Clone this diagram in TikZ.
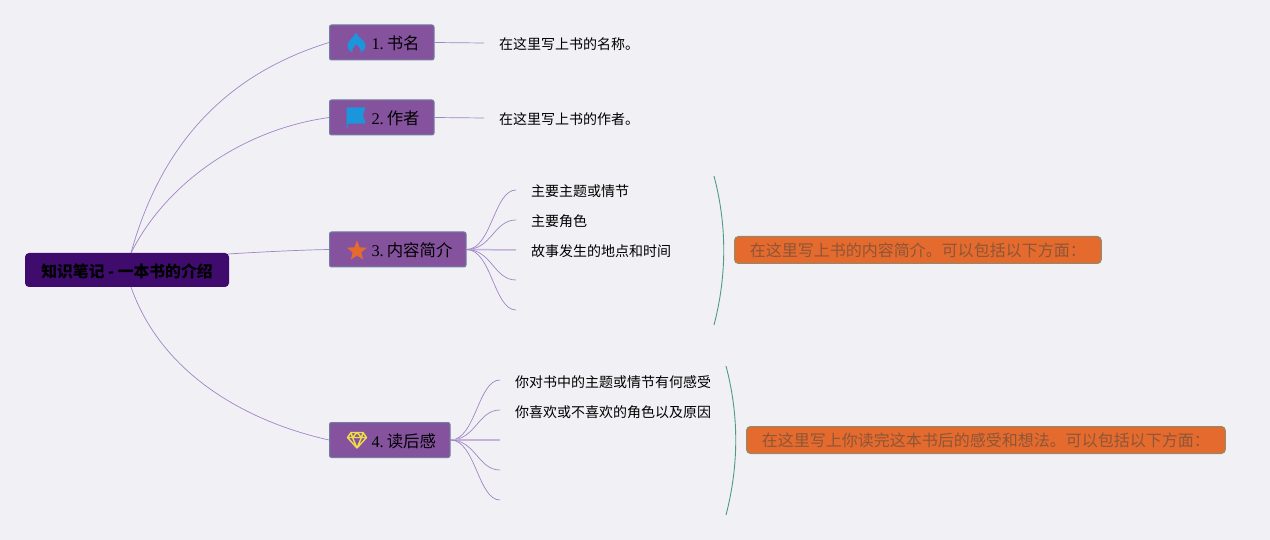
\documentclass[tikz,border=0pt]{standalone}
\usepackage{fontspec}
\setmainfont{Liberation Serif}
\newfontfamily\cjk{Noto Sans CJK SC}
\usetikzlibrary{shapes.geometric}
\definecolor{pagebg}{HTML}{F1F1F5}
\definecolor{rootfill}{HTML}{3F0B6D}
\definecolor{subjfill}{HTML}{85539E}
\definecolor{subjline}{HTML}{6F7FA0}
\definecolor{branch}{HTML}{A084C6}
\definecolor{branchlight}{HTML}{C4B2DC}
\definecolor{bracketline}{HTML}{4F9A85}
\definecolor{notefill}{HTML}{E56A2D}
\definecolor{noteline}{HTML}{918A6C}
\definecolor{notetext}{HTML}{8C5638}
\definecolor{iconblue}{HTML}{1A96DC}
\definecolor{iconyellow}{HTML}{F0DC46}
\tikzset{
    root/.style={fill=rootfill, rounded corners=4pt, minimum width=204pt, minimum height=34pt, inner sep=0pt, text height=16pt, text depth=0pt, font=\cjk\bfseries\fontsize{15.8}{18}\selectfont},
    subject/.style={draw=subjline, fill=subjfill, line width=1pt, rounded corners=2pt, anchor=west, text width=#1, minimum height=35pt, inner xsep=0pt, align=left, text height=15pt, text depth=1pt, font=\cjk\fontsize{16.4}{19}\selectfont, execute at begin node=\hspace*{42pt}},
    leaf/.style={anchor=west, inner xsep=15pt, inner ysep=0pt, text height=14pt, text depth=0pt, font=\cjk\fontsize{14}{18}\selectfont},
    note/.style={draw=noteline, fill=notefill, text=notetext, line width=1pt, rounded corners=4pt, anchor=west, minimum height=27pt, inner xsep=15.4pt, inner ysep=0pt, text height=14.5pt, text depth=1.5pt, font=\cjk\fontsize{16}{19}\selectfont},
    link/.style={draw=branch, line width=0.7pt},
    midlink/.style={draw=branchlight, line width=1.5pt},
    bracket/.style={draw=bracketline, line width=0.9pt}
}
\begin{document}
\begin{tikzpicture}[x=1pt, y=-1pt]
    \fill[pagebg] (0,0) rectangle (1270,540);

    % root and subjects
    \node[root] (root) at (127,270) {知识笔记 - 一本书的介绍};
    \node[subject=104.5pt] (s1) at (329,42.5) {{\rmfamily 1.}\hspace{3pt}书名};
    \node[subject=104.5pt] (s2) at (329,117.5) {{\rmfamily 2.}\hspace{3pt}作者};
    \node[subject=136.5pt] (s3) at (329,249.5) {{\rmfamily 3.}\hspace{3pt}内容简介};
    \node[subject=120.5pt] (s4) at (329,440) {{\rmfamily 4.}\hspace{3pt}读后感};

    % icons
    \fill[iconblue] (356,32.7) .. controls (358,38) and (365.5,40) .. (365.5,46) .. controls (365.5,49) and (363,51.5) .. (360.5,52.5) .. controls (361.5,49) and (359,47) .. (356.3,44) .. controls (354,47) and (351.5,49) .. (352.5,52.5) .. controls (349.5,51.5) and (347.5,49) .. (347.5,46) .. controls (347.5,40) and (354,38) .. (356,32.7) -- cycle;
    \fill[iconblue] (346.7,107.3) -- (365.7,107.3) -- (362.7,115) -- (365.7,123.3) -- (347.7,123.8) -- (347.7,128) -- (346.7,128) -- cycle;
    \node[star, star points=5, star point ratio=2.3, fill=notefill, inner sep=0pt, minimum size=21pt] (staricon) at (357,251) {};
    \draw[iconyellow, line width=1.4pt, line join=round] (351,432.5) -- (363,432.5) -- (366.5,437.5) -- (357,448) -- (347.5,437.5) -- cycle (347.5,437.5) -- (366.5,437.5) (352.5,437.5) -- (357,448) -- (361.5,437.5) (351,432.5) -- (352.5,437.5) -- (357,432.5) -- (361.5,437.5) -- (363,432.5);

    % texts
    \node[leaf] (t1) at (484,43) {在这里写上书的名称。};
    \node[leaf] (t2) at (484,118) {在这里写上书的作者。};
    \node[leaf] (c1) at (516,190) {主要主题或情节};
    \node[leaf] (c2) at (516,220) {主要角色};
    \node[leaf] (c3) at (516,250) {故事发生的地点和时间};
    \node[leaf] (r1) at (500,380) {你对书中的主题或情节有何感受};
    \node[leaf] (r2) at (500,410) {你喜欢或不喜欢的角色以及原因};
    \coordinate (c4) at (516,280);
    \coordinate (c5) at (516,310);
    \coordinate (r3) at (500,440);
    \coordinate (r4) at (500,470);
    \coordinate (r5) at (500,500);

    \node[note] (n3) at (734,250) {在这里写上书的内容简介。可以包括以下方面：};
    \node[note] (n4) at (746,440) {在这里写上你读完这本书后的感受和想法。可以包括以下方面：};

    % root connectors
    \coordinate (rtop) at (131,253);
    \coordinate (rbot) at (131,287);
    \coordinate (rright) at (228,254);
    \draw[link] (rtop) .. controls (165,130) and (240,70) .. (s1.west);
    \draw[link] (rtop) .. controls (165,185) and (240,130) .. (s2.west);
    \draw[link] (rright) .. controls (260,252) and (300,250) .. (s3.west);
    \draw[link] (rbot) .. controls (160,370) and (240,420) .. (s4.west);

    % subject connectors
    \draw[link] (s1.east) -- (t1.west);
    \draw[link] (s2.east) -- (t2.west);
    \draw[link] (s3.east) .. controls +(25,0) and +(-22,0) .. (c1.west);
    \draw[link] (s3.east) .. controls +(25,0) and +(-22,0) .. (c2.west);
    \draw[midlink] (s3.east) -- (c3.west);
    \draw[link] (s3.east) .. controls +(25,0) and +(-22,0) .. (c4);
    \draw[link] (s3.east) .. controls +(25,0) and +(-22,0) .. (c5);
    \draw[link] (s4.east) .. controls +(25,0) and +(-22,0) .. (r1.west);
    \draw[link] (s4.east) .. controls +(25,0) and +(-22,0) .. (r2.west);
    \draw[midlink] (s4.east) -- (r3);
    \draw[link] (s4.east) .. controls +(25,0) and +(-22,0) .. (r4);
    \draw[link] (s4.east) .. controls +(25,0) and +(-22,0) .. (r5);

    % brackets
    \coordinate (b3top) at (714,176);
    \coordinate (b3bot) at (714,325);
    \coordinate (b4top) at (726,366);
    \coordinate (b4bot) at (726,515);
    \draw[bracket] (b3top) .. controls (727,225) and (727,275) .. (b3bot);
    \draw[bracket] (b4top) .. controls (739,415) and (739,465) .. (b4bot);
\end{tikzpicture}
\end{document}
